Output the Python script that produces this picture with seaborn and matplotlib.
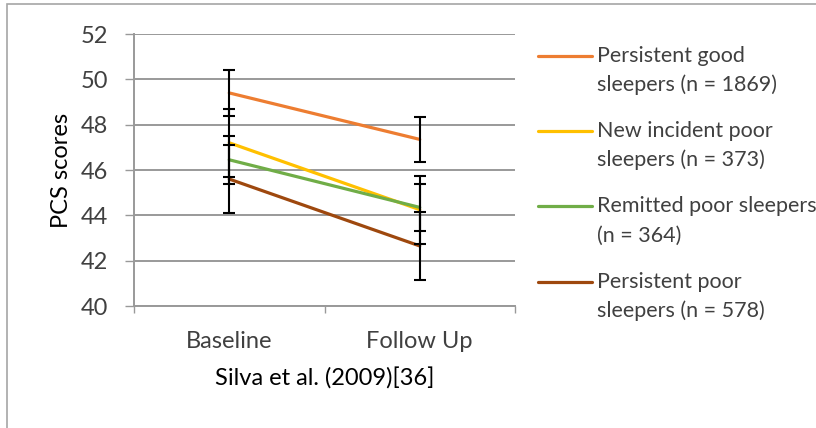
import matplotlib
matplotlib.use("Agg")
import matplotlib.pyplot as plt
import seaborn as sns
import pandas as pd
from matplotlib.patches import Rectangle
from matplotlib.lines import Line2D

timepoints = ["Baseline", "Follow Up"]
groups = ["Persistent good\nsleepers (n = 1869)",
          "New incident poor\nsleepers (n = 373)",
          "Remitted poor sleepers\n(n = 364)",
          "Persistent poor\nsleepers (n = 578)"]
baseline = [49.4, 47.2, 46.45, 45.6]
follow_up = [47.35, 44.25, 44.35, 42.65]
errors = [1.0, 1.5, 1.05, 1.5]
colors = ["#ED7D31", "#FFC000", "#70AD47", "#9E480E"]
yticks = [40, 42, 44, 46, 48, 50, 52]

rows = []
for g, b, f, e in zip(groups, baseline, follow_up, errors):
    rows.append({"group": g, "time": 0, "score": b, "err": e})
    rows.append({"group": g, "time": 1, "score": f, "err": e})
df = pd.DataFrame(rows)

sns.set_style("white")
plt.rcParams["font.family"] = ["Lato", "DejaVu Sans"]

W, H = 816, 428
fig = plt.figure(figsize=(W/100, H/100), dpi=100)
ax = fig.add_axes([134/W, 1-306/H, (515-134)/W, (306-34)/H])

sns.lineplot(data=df, x="time", y="score", hue="group", hue_order=groups,
             palette=colors, linewidth=2.3, ax=ax, legend=False, zorder=3,
             errorbar=None)
ax.errorbar(df["time"], df["score"], yerr=df["err"], fmt="none",
            ecolor="black", elinewidth=1.5, capsize=4.5, capthick=1.5, zorder=4)

grey = "#999999"
txt = "#404040"
ax.set_xlim(-0.5, 1.5)
ax.set_ylim(40, 52)
ax.set_yticks(yticks)
ax.set_yticklabels([str(t) for t in yticks], fontsize=17, color=txt)
ax.set_xticks([0, 1])
ax.set_xticklabels(timepoints, fontsize=17, color=txt)
ax.set_xticks([-0.5, 0.5, 1.5], minor=True)
ax.tick_params(axis="x", which="major", length=0, pad=18)
ax.tick_params(axis="x", which="minor", length=5, width=1.0, color=grey, direction="out", bottom=True)
ax.tick_params(axis="y", which="major", length=6.5, width=1.0, color=grey, direction="out", left=True, pad=12)
ax.grid(axis="y", color=grey, linewidth=1.4)
ax.set_axisbelow(True)
for s in ["top", "right"]:
    ax.spines[s].set_visible(False)
for s in ["left", "bottom"]:
    ax.spines[s].set_color(grey)
    ax.spines[s].set_linewidth(1.4)

ax.set_ylabel("PCS scores", fontsize=17, color="black")
ax.yaxis.set_label_coords((72 - 134) / (515 - 134), 0.5)
ax.set_xlabel("Silva et al. (2009)[36]", fontsize=17, labelpad=11, color="black")

# legend (handle aligned with the first text line, as in the original)
first_y = [56, 131, 206.5, 281.5]
for g, c, y in zip(groups, colors, first_y):
    fig.add_artist(Line2D([538/W, 592/W], [1-y/H, 1-y/H], color=c, linewidth=2.3,
                          transform=fig.transFigure))
    l1, l2 = g.split("\n")
    fig.text(597/W, 1-y/H, l1, fontsize=15.5, color=txt, va="center", ha="left")
    fig.text(597/W, 1-(y+29)/H, l2, fontsize=15.5, color=txt, va="center", ha="left")

fig.add_artist(Rectangle((7/W, -0.1), 1.2, 1 - 4/H + 0.1, transform=fig.transFigure,
                         fill=False, edgecolor="#a6a6a6", linewidth=1.2, clip_on=False))

fig.savefig("out.png", dpi=100)
